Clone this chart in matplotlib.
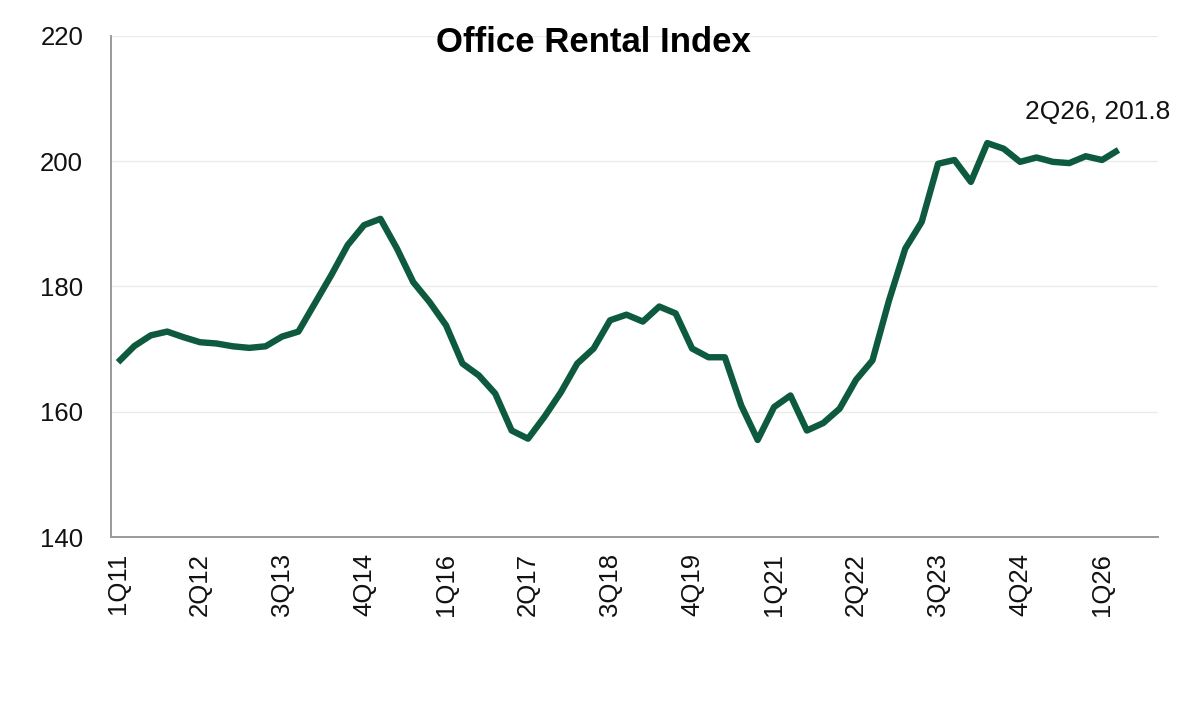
import matplotlib
matplotlib.use("Agg")
import matplotlib.pyplot as plt

quarters = [
    "1Q11", "2Q11", "3Q11", "4Q11", "1Q12", "2Q12", "3Q12", "4Q12",
    "1Q13", "2Q13", "3Q13", "4Q13", "1Q14", "2Q14", "3Q14", "4Q14",
    "1Q15", "2Q15", "3Q15", "4Q15", "1Q16", "2Q16", "3Q16", "4Q16",
    "1Q17", "2Q17", "3Q17", "4Q17", "1Q18", "2Q18", "3Q18", "4Q18",
    "1Q19", "2Q19", "3Q19", "4Q19", "1Q20", "2Q20", "3Q20", "4Q20",
    "1Q21", "2Q21", "3Q21", "4Q21", "1Q22", "2Q22", "3Q22", "4Q22",
    "1Q23", "2Q23", "3Q23", "4Q23", "1Q24", "2Q24", "3Q24", "4Q24",
    "1Q25", "2Q25", "3Q25", "4Q25", "1Q26", "2Q26",
]

index_values = [
    167.9, 170.5, 172.2, 172.8, 171.9, 171.1, 170.9, 170.45,
    170.2, 170.45, 172.0, 172.8, 177.3, 181.8, 186.6, 189.8,
    190.8, 186.1, 180.7, 177.5, 173.8, 167.7, 165.8, 162.9,
    157.0, 155.7, 159.2, 163.1, 167.7, 170.1, 174.6, 175.5,
    174.4, 176.8, 175.7, 170.1, 168.7, 168.7, 161.0, 155.5,
    160.75, 162.6, 157.0, 158.2, 160.5, 165.1, 168.2, 177.7,
    186.05, 190.3, 199.6, 200.2, 196.7, 202.9, 202.0, 199.9,
    200.6, 199.9, 199.7, 200.8, 200.2, 201.8,
]

y_ticks = [140, 160, 180, 200, 220]
title = "Office Rental Index"

plt.rcParams['font.family'] = ['Liberation Sans', 'DejaVu Sans']

fig = plt.figure(figsize=(11.86, 7.04), dpi=100)
ax = fig.add_axes([0.0936, 0.2372, 0.9764 - 0.0936, 0.9489 - 0.2372])

x = list(range(len(quarters)))
ax.plot(x, index_values, color="#0D5A3E", lw=4.6, solid_joinstyle="round",
        solid_capstyle="butt", zorder=3)

ax.set_xlim(-0.427, 63.41)
ax.set_ylim(140, 220)
ax.set_yticks(y_ticks)
ax.set_yticklabels([str(t) for t in y_ticks])
tick_pos = x[::5]
ax.set_xticks(tick_pos)
ax.set_xticklabels([quarters[i] for i in tick_pos], rotation=90, va="top", ha="center")

ax.tick_params(axis="y", length=0, pad=20, labelsize=18.5, colors="#111111")
ax.tick_params(axis="x", length=0, pad=11.5, labelsize=18.5, colors="#111111")

ax.grid(axis="y", color="#EBEBEB", lw=1.0, zorder=0)
ax.set_axisbelow(True)
for s in ["top", "right"]:
    ax.spines[s].set_visible(False)
for s in ["left", "bottom"]:
    ax.spines[s].set_color("#9A9A9A")
    ax.spines[s].set_linewidth(1.4)

last = len(quarters) - 1
ax.annotate(f"{quarters[last]}, {index_values[last]}",
            xy=(x[last], index_values[last]), xytext=(-15, 27),
            textcoords="offset points", ha="center", va="center",
            fontsize=19, color="#111111", annotation_clip=False)

fig.text(0.5, 1 - 42 / 704, title, ha="center", va="center",
         fontsize=25, fontweight="bold", color="#000000")

fig.savefig("out.png", dpi=100, facecolor="white")
